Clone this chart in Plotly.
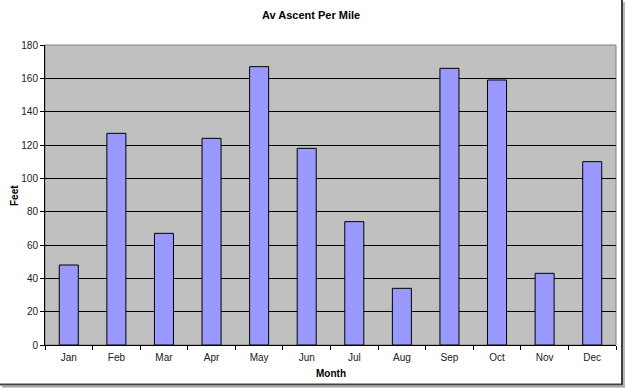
import plotly.graph_objects as go

months = ["Jan", "Feb", "Mar", "Apr", "May", "Jun", "Jul", "Aug", "Sep", "Oct", "Nov", "Dec"]
feet = [48, 127, 67, 124, 167, 118, 74, 34, 166, 159, 43, 110]
y_ticks = [0, 20, 40, 60, 80, 100, 120, 140, 160, 180]

W, H = 626, 388
L, R, T, B = 45, 616, 45, 345

fig = go.Figure()
fig.add_trace(go.Bar(
    x=months, y=feet,
    marker=dict(color="#9999FF", line=dict(color="#000000", width=1)),
))

font = "Liberation Sans, Arial, sans-serif"
fig.update_layout(
    width=W, height=H,
    margin=dict(l=L, r=W - R, t=T, b=H - B, autoexpand=False),
    paper_bgcolor="#FFFFFF",
    plot_bgcolor="#C0C0C0",
    bargap=0.6,
    showlegend=False,
    font=dict(family=font, size=10, color="#000000"),
    title=dict(text="<b>Av Ascent Per Mile</b>", x=0.497, xanchor="center",
               y=1 - 15 / H, yanchor="middle", font=dict(size=11, family=font)),
    xaxis=dict(
        type="category", tickson="boundaries", ticks="outside", ticklen=4,
        tickcolor="#000000", showline=True, linecolor="#000000", linewidth=1,
        showgrid=False, tickfont=dict(size=10, color="#202020"), automargin=False,
        ticklabelstandoff=3,
    ),
    yaxis=dict(
        range=[0, 180], tickvals=y_ticks, ticks="outside", ticklen=4,
        tickcolor="#000000", showline=True, linecolor="#000000", linewidth=1,
        showgrid=True, gridcolor="#000000", gridwidth=1, zeroline=False,
        tickfont=dict(size=10, color="#202020"), automargin=False,
    ),
)

def px(x):
    return (x - L) / (R - L)

def py(y):
    return (B - y) / (B - T)

fig.add_annotation(text="<b>Month</b>", xref="paper", yref="paper",
                   x=px(331), y=py(373), showarrow=False,
                   xanchor="center", yanchor="middle", font=dict(size=10))
fig.add_annotation(text="<b>Feet</b>", xref="paper", yref="paper",
                   x=px(14), y=py(196), showarrow=False, textangle=-90,
                   xanchor="center", yanchor="middle", font=dict(size=10))

# plot-area border
fig.add_shape(type="rect", xref="paper", yref="paper", x0=0, x1=1, y0=0, y1=1,
              line=dict(color="#808080", width=1), layer="below")
# chart frame shadow at right/bottom
fig.add_shape(type="line", xref="paper", yref="paper",
              x0=px(622), x1=px(622), y0=py(0), y1=py(385),
              line=dict(color="#404040", width=2))
fig.add_shape(type="line", xref="paper", yref="paper",
              x0=px(0), x1=px(623), y0=py(384.5), y1=py(384.5),
              line=dict(color="#404040", width=2))
fig.add_shape(type="line", xref="paper", yref="paper",
              x0=px(624), x1=px(624), y0=py(2), y1=py(387),
              line=dict(color="#A0A0A0", width=1.5))
fig.add_shape(type="line", xref="paper", yref="paper",
              x0=px(2), x1=px(625), y0=py(386.8), y1=py(386.8),
              line=dict(color="#A0A0A0", width=1.5))

fig.write_html("out.html", config={"displayModeBar": False},
               post_script="document.body.style.margin='0';document.body.style.overflow='hidden';")
